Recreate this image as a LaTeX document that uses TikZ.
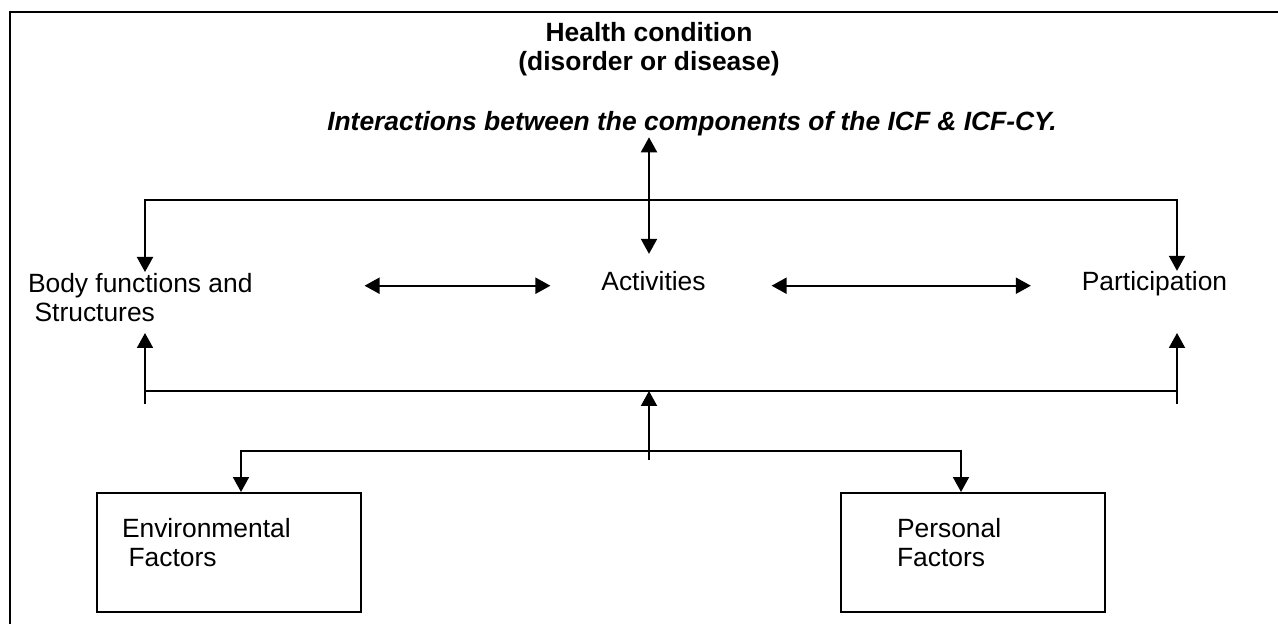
\documentclass[tikz,border=0pt]{standalone}
\usepackage{fontspec}
\setmainfont{Liberation Sans}
\usetikzlibrary{arrows.meta,positioning}
\begin{document}
\begin{tikzpicture}[x=0.5pt, y=-0.5pt, line width=1pt,
   >={Triangle[width=8pt,length=7.5pt]},
   every node/.style={font=\fontsize{13.2}{14.5}\selectfont, inner sep=0pt},
   factorbox/.style={draw, minimum width=132pt, minimum height=59.5pt}]
   \useasboundingbox (0,0) rectangle (1278,624);
   \draw (1278,12) -- (10,12) -- (10,624);
   % headings
   \node[align=center, font=\fontsize{13.2}{14.5}\selectfont\bfseries] (health) at (649,49) {Health condition\\(disorder or disease)};
   \node[font=\fontsize{13.2}{14.5}\selectfont\bfseries\itshape] (icf) at (692,124) {Interactions between the components of the ICF \& ICF-CY.};
   % components
   \node[anchor=north west, align=left] (body) at (27,272) {Body functions and\\\hspace{0.25em}Structures};
   \node[anchor=base] (act) at (653.5,291) {Activities};
   \node[anchor=base] (part) at (1154.5,291) {Participation};
   % contextual factors
   \node[factorbox] (env) at (229,552.5) {};
   \node[factorbox] (pers) at (973,552.5) {};
   \node[below right=12.5pt and 12.5pt of env.north west, anchor=north west, align=left] (envtext) {Environmental\\\hspace{0.25em}Factors};
   \node[below right=12.5pt and 28pt of pers.north west, anchor=north west, align=left] (perstext) {Personal\\Factors};
   \coordinate (topl) at (145,200);
   \coordinate (topr) at (1177,200);
   \coordinate (botl) at (145,404);
   \coordinate (botr) at (1177,404);
   \coordinate (fork) at (649,391);
   \coordinate (stem) at (649,460);
   \coordinate (envin) at (241,451);
   \coordinate (persin) at (961,451);
   % connectors
   \draw[<->, shorten >=8.5pt] (icf.south -| fork) -- (fork |- act.north);
   \draw[<->] (topl |- body.north) -- (topl) -- (topr) -- (topr |- part.north);
   \draw[<->] ([xshift=55.5pt]body.east |- act.mid) -- ([xshift=-25pt]act.mid west);
   \draw[<->] ([xshift=32.5pt]act.mid east) -- ([xshift=-25pt]part.mid west);
   \draw[->] (botl) -- ++(0,-71);
   \draw[->] (botr) -- ++(0,-71);
   \draw (botl |- fork) -- (botr |- fork);
   \draw[->] (stem) -- (fork);
   \draw[<->] (envin |- env.north) -- (envin) -- (persin) -- (persin |- pers.north);
\end{tikzpicture}
\end{document}
